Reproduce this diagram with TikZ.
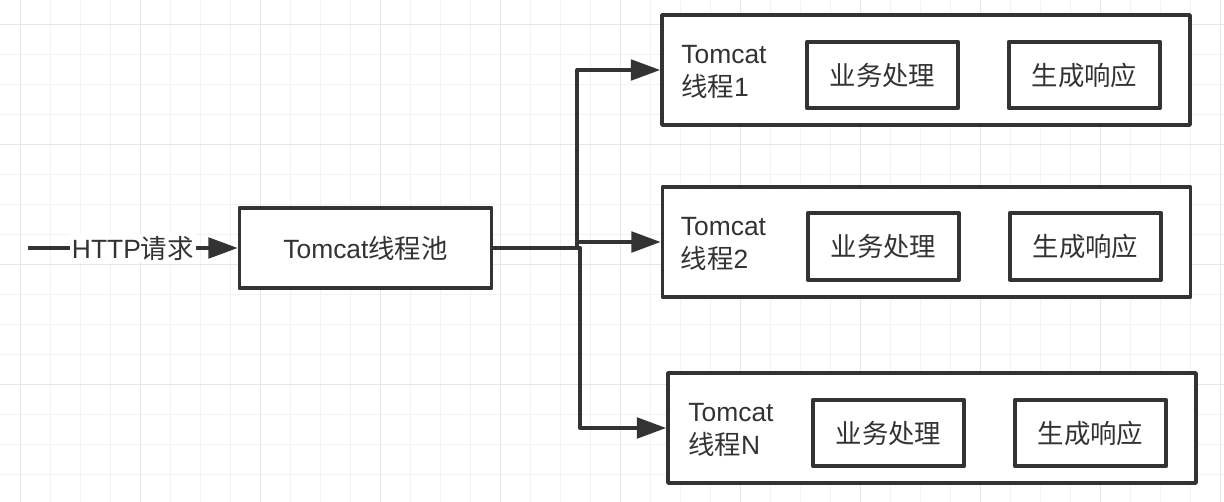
\documentclass[tikz,border=0pt]{standalone}
\usepackage{fontspec}
\setmainfont{Liberation Sans}
\newfontfamily\cjk{Noto Sans CJK SC}
\usetikzlibrary{arrows.meta,calc}
\definecolor{ink}{HTML}{333333}
\definecolor{gridminor}{HTML}{F2F2F2}
\definecolor{gridmajor}{HTML}{E6E6E6}
\begin{document}
\begin{tikzpicture}[x=0.75pt,y=-0.75pt,
  lbl/.style={text=ink, font=\fontsize{19.8}{23.5}\selectfont},
  twoline/.style={text=ink, font=\fontsize{19.8}{25}\selectfont, anchor=west, align=left, inner sep=0pt},
  box/.style={draw=ink, line width=2.8pt, fill=white, line join=round, inner sep=0pt, lbl},
  outerbox/.style={box, minimum width=396pt, minimum height=82.5pt},
  innerbox/.style={box, minimum width=113.5pt, minimum height=50pt},
  poolbox/.style={box, minimum width=189pt, minimum height=60.5pt},
  arr/.style={draw=ink, line width=2.5pt, -{Triangle[length=22pt,width=15.5pt]}},
  gminor/.style={draw=gridminor, line width=1.1pt},
  gmajor/.style={draw=gridmajor, line width=1.1pt},
]
\useasboundingbox (0,0) rectangle (1224,502);
\fill[white] (0,0) rectangle (1224,502);
% grid
\foreach \i in {0,...,40} {\draw[gminor] ({20.7+30*\i},0) -- ({20.7+30*\i},502);}
\foreach \i in {0,...,15} {\draw[gminor] (0,{24.3+30*\i}) -- (1224,{24.3+30*\i});}
\foreach \i in {0,...,10} {\draw[gmajor] ({20.7+120*\i},0) -- ({20.7+120*\i},502);}
\foreach \i in {0,...,3} {\draw[gmajor] (0,{24.3+120*\i}) -- (1224,{24.3+120*\i});}

% pool
\node[poolbox] (pool) at (365.5,248) {Tomcat{\cjk 线程池}};

% thread boxes
\node[outerbox] (t1) at (926,70) {};
\node[outerbox] (t2) at (926.5,242) {};
\node[outerbox] (t3) at (932,428) {};

\node[twoline] (l1) at ($(t1.west)+(21,2)$) {Tomcat\\{\cjk 线程}1};
\node[twoline] (l2) at ($(t2.west)+(20,2)$) {Tomcat\\{\cjk 线程}2};
\node[twoline] (l3) at ($(t3.west)+(22,2)$) {Tomcat\\{\cjk 线程}N};

\node[innerbox] (a1) at (882.5,75) {\cjk 业务处理};
\node[innerbox] (b1) at (1084.5,75) {\cjk 生成响应};
\node[innerbox] (a2) at (883.5,246.5) {\cjk 业务处理};
\node[innerbox] (b2) at (1085.5,246.5) {\cjk 生成响应};
\node[innerbox] (a3) at (888.5,433) {\cjk 业务处理};
\node[innerbox] (b3) at (1090.5,433) {\cjk 生成响应};

% connectors
\coordinate (src) at (28,248);
\coordinate (j1) at (577,0);
\coordinate (j3) at (580,0);
\draw[arr] (src) -- node[lbl, fill=white, inner sep=1.5pt] (http) {HTTP{\cjk 请求}} (pool.west);
\draw[arr, line join=round] (pool.east) -- (pool.east -| j1) |- (t1.west);
\draw[arr, line join=round] (pool.east) -- (pool.east -| j1) |- (t2.west);
\draw[arr, line join=round] (pool.east) -- (pool.east -| j3) |- (t3.west);
\end{tikzpicture}
\end{document}
